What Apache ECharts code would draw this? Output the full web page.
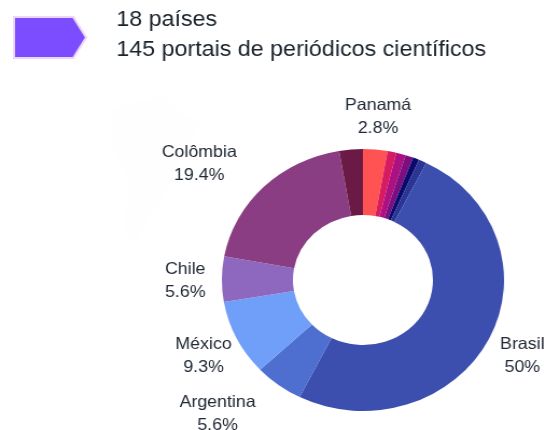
<!DOCTYPE html>
<html><head><meta charset="utf-8">
<style>html,body{margin:0;padding:0;background:#fff;overflow:hidden}
#c{width:505px;height:430px;transform:scaleX(1.077);transform-origin:0 0}</style>
<script src="https://cdn.jsdelivr.net/npm/echarts@6/dist/echarts.min.js"></script></head>
<body><div id="c"></div>
<script>
const categories=['Panamá','p1','p2','p3','p4','p5','Brasil','Argentina','México','Chile','Colômbia','p6'];
const values=[2.8,1.0,1.1,0.9,0.7,0.9,50,5.6,9.3,5.6,19.4,2.7];
const colors=['#ff5252','#d81b60','#ad1080','#7b0f80','#0a0a6e','#2a3594','#3c4fae','#4e6fd0','#6f9ff8','#8e67bf','#8a3d82','#6b1a45'];
const titleLines=['18 países','145 portais de periódicos científicos'];
const labelPlaces={'Panamá':[351,117],'Colômbia':[185,164],'Chile':[172,281],'México':[189,356],'Argentina':[202,414],'Brasil':[485,356]};
const chart=echarts.init(document.getElementById('c'),null,{renderer:'canvas'});
const font='"Liberation Sans"';
chart.setOption({
 animation:false,backgroundColor:'#fff',
 graphic:[
  {type:'polygon',shape:{points:[[104,108],[150,96],[185,125],[160,180],[125,240],[115,235],[120,180],[104,150]]},style:{fill:'#fefefe'}},
  {type:'polygon',shape:{points:[[13,17],[68,17],[80,37.5],[68,58],[13,58]]},style:{fill:'#7c4dff',stroke:'#ecd6f5',lineWidth:2}},
  {type:'text',left:108,top:9,style:{text:titleLines[0],font:'21.6px '+font,fill:'#1a222c'}},
  {type:'text',left:108,top:39,style:{text:titleLines[1],font:'21.6px '+font,fill:'#1a222c'}}
 ],
 series:[{type:'pie',center:[337,280],radius:[65,131],startAngle:90,clockwise:true,avoidLabelOverlap:false,
  label:{show:true,position:'outside',align:'center',verticalAlign:'middle',fontFamily:font,fontSize:16.5,lineHeight:23,color:'#222a36',formatter:p=>labelPlaces[p.name]?p.name+'\n'+p.value+'%':''},
  labelLine:{show:false},emphasis:{disabled:true},
  labelLayout:p=>{const q=labelPlaces[categories[p.dataIndex]];return q?{x:q[0],y:q[1],align:'center',verticalAlign:'middle'}:{}},
  data:categories.map((n,i)=>({name:n,value:values[i],itemStyle:{color:colors[i]}}))}]
});
</script></body></html>
